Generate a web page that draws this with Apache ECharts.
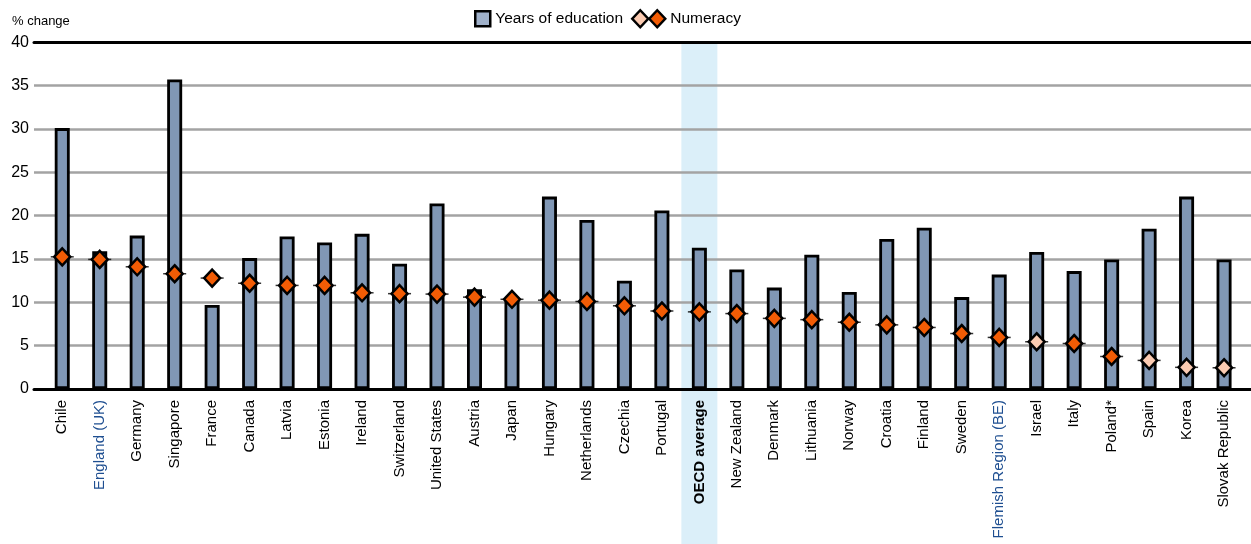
<!DOCTYPE html>
<html>
<head>
<meta charset="utf-8">
<script src="https://cdn.jsdelivr.net/npm/echarts@6/dist/echarts.min.js"></script>
<style>
  html, body { margin: 0; padding: 0; background: #fff; }
  #chart { width: 1251px; height: 544px; }
</style>
</head>
<body>
<div id="chart"></div>
<script>
// data
var countries = ["Chile", "England (UK)", "Germany", "Singapore", "France", "Canada", "Latvia", "Estonia",
  "Ireland", "Switzerland", "United States", "Austria", "Japan", "Hungary", "Netherlands", "Czechia",
  "Portugal", "OECD average", "New Zealand", "Denmark", "Lithuania", "Norway", "Croatia", "Finland",
  "Sweden", "Flemish Region (BE)", "Israel", "Italy", "Poland*", "Spain", "Korea", "Slovak Republic"];
var education = [30.1, 15.9, 17.7, 35.7, 9.7, 15.1, 17.6, 16.9,
  17.9, 14.45, 21.4, 11.5, 10.3, 22.2, 19.5, 12.5,
  20.6, 16.3, 13.8, 11.7, 15.5, 11.2, 17.3, 18.6,
  10.6, 13.2, 15.8, 13.6, 14.95, 18.5, 22.2, 14.95];
var numeracy = [15.25, 14.95, 14.1, 13.3, 12.8, 12.2, 11.95, 11.95,
  11.1, 11.0, 10.95, 10.6, 10.35, 10.25, 10.1, 9.6,
  9.0, 8.9, 8.7, 8.15, 8.0, 7.7, 7.4, 7.1,
  6.4, 5.95, 5.45, 5.25, 3.75, 3.3, 2.5, 2.45];
// 1 = significant (dark marker), 0 = not significant (light marker)
var significant = [1, 1, 1, 1, 1, 1, 1, 1,
  1, 1, 1, 1, 1, 1, 1, 1,
  1, 1, 1, 1, 1, 1, 1, 1,
  1, 1, 0, 1, 1, 0, 0, 0];
var yTicks = [0, 5, 10, 15, 20, 25, 30, 35, 40];
var average = "OECD average";
var subnational = ["England (UK)", "Flemish Region (BE)"];

var font = "'Liberation Sans', Arial, sans-serif";
var barColor = "#8097b5";
var darkMarker = "#f25c05";
var lightMarker = "#fbcbb2";

var sigData = numeracy.map(function (v, i) { return significant[i] ? v : "-"; });
var nsData = numeracy.map(function (v, i) { return significant[i] ? "-" : v; });
var bandData = countries.map(function (c) { return c === average ? 1 : "-"; });

var chart = echarts.init(document.getElementById("chart"));
var plotTop = 42.3, plotBottom = 155;
var option = {
  animation: false,
  backgroundColor: "#fff",
  title: {
    text: "% change",
    left: 7, top: 10,
    textStyle: { fontFamily: font, fontSize: 13, fontWeight: "normal", color: "#000" }
  },
  legend: [
    {
      left: 469, top: 5, itemWidth: 15, itemHeight: 15,
      textStyle: { fontFamily: font, fontSize: 15.5, color: "#000" },
      data: [{ name: "Years of education", icon: "rect",
        itemStyle: { color: "#a0b1ca", borderColor: "#000", borderWidth: 2.5 } }]
    },
    {
      left: 626, top: 4, itemWidth: 16, itemHeight: 17,
      formatter: function () { return ""; },
      data: [{ name: "ns", icon: "diamond",
        itemStyle: { color: lightMarker, borderColor: "#000", borderWidth: 2.5 } }]
    },
    {
      left: 643, top: 4, itemWidth: 16, itemHeight: 17,
      textStyle: { fontFamily: font, fontSize: 15.5, color: "#000" },
      data: [{ name: "Numeracy", icon: "diamond",
        itemStyle: { color: darkMarker, borderColor: "#000", borderWidth: 2.5 } }]
    }
  ],
  grid: [
    { left: 34, right: 0, top: plotTop, bottom: plotBottom },          // gridlines + y labels
    { left: 43.5, right: 8.2, top: plotTop, bottom: plotBottom },      // bars and markers
    { left: 43.5, right: 8.2, top: plotTop, bottom: 0 }                // average band
  ],
  xAxis: [
    { gridIndex: 0, type: "value", min: 0, max: 1, position: "bottom",
      axisLine: { show: true, onZero: false, lineStyle: { color: "#000", width: 3 } },
      axisTick: { show: false }, axisLabel: { show: false }, splitLine: { show: false }, z: 2 },
    { gridIndex: 0, type: "value", min: 0, max: 1, position: "top",
      axisLine: { show: true, onZero: false, lineStyle: { color: "#000", width: 3 } },
      axisTick: { show: false }, axisLabel: { show: false }, splitLine: { show: false }, z: 2 },
    { gridIndex: 1, type: "category", data: countries, boundaryGap: true,
      axisLine: { show: false }, axisTick: { show: false },
      axisLabel: {
        rotate: 90, margin: 11, interval: 0,
        fontFamily: font, fontSize: 15, color: "#000",
        formatter: function (v) {
          if (v === average) return "{b|" + v + "}";
          if (subnational.indexOf(v) >= 0) return "{u|" + v + "}";
          return v;
        },
        rich: {
          b: { fontFamily: font, fontSize: 15, fontWeight: "bold", color: "#000" },
          u: { fontFamily: font, fontSize: 15, color: "#1f4f91" }
        }
      }, z: 5 },
    { gridIndex: 2, type: "category", data: countries, show: false }
  ],
  yAxis: [
    { gridIndex: 0, type: "value", min: 0, max: 40, interval: 5,
      axisLine: { show: false }, axisTick: { show: false },
      axisLabel: { fontFamily: font, fontSize: 16, color: "#000", margin: 5,
        formatter: function (v) { return yTicks.indexOf(v) >= 0 ? String(v) : ""; } },
      splitLine: { show: true, lineStyle: { color: ["transparent", "#a3a3a3", "#a3a3a3", "#a3a3a3",
        "#a3a3a3", "#a3a3a3", "#a3a3a3", "#a3a3a3", "transparent"], width: 2.5 } }, z: 2 },
    { gridIndex: 1, type: "value", min: 0, max: 40, show: false, splitLine: { show: false } },
    { gridIndex: 2, type: "value", min: 0, max: 1, show: false, splitLine: { show: false } }
  ],
  series: [
    { name: "band", type: "bar", xAxisIndex: 3, yAxisIndex: 2, data: bandData,
      barWidth: 36, itemStyle: { color: "#dbeff9" }, silent: true, z: 1 },
    { name: "Years of education", type: "bar", xAxisIndex: 2, yAxisIndex: 1, data: education,
      barWidth: 15, itemStyle: { color: barColor, borderColor: "#000", borderWidth: 2.8 }, z: 3 },
    { name: "tick", type: "scatter", xAxisIndex: 2, yAxisIndex: 1, data: numeracy,
      symbol: "rect", symbolSize: [23, 1.5], itemStyle: { color: "#000" }, silent: true, z: 4 },
    { name: "ns", type: "scatter", xAxisIndex: 2, yAxisIndex: 1, data: nsData,
      symbol: "diamond", symbolSize: [16, 17],
      itemStyle: { color: lightMarker, borderColor: "#000", borderWidth: 2.5, opacity: 1 }, z: 5 },
    { name: "Numeracy", type: "scatter", xAxisIndex: 2, yAxisIndex: 1, data: sigData,
      symbol: "diamond", symbolSize: [16, 17],
      itemStyle: { color: darkMarker, borderColor: "#000", borderWidth: 2.5, opacity: 1 }, z: 5 }
  ]
};
chart.setOption(option);
</script>
</body>
</html>
